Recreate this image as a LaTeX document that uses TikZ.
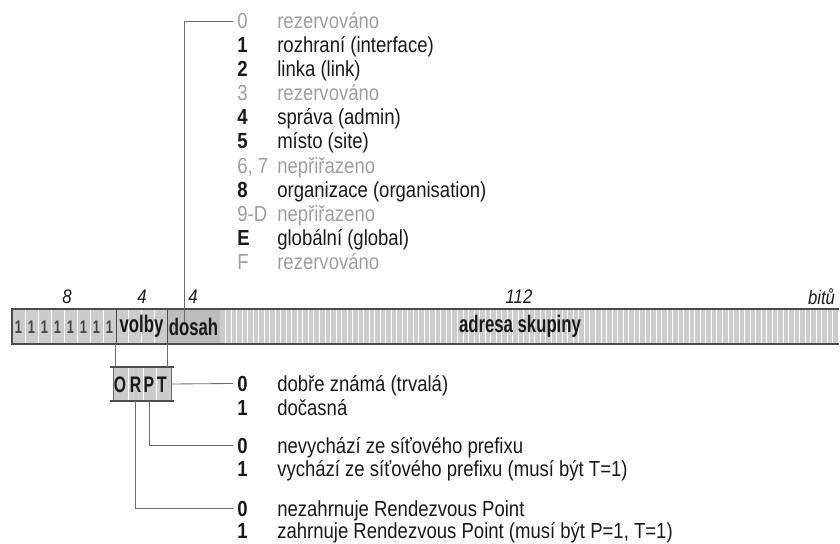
\documentclass[tikz,border=0pt]{standalone}
\usepackage{fontspec}
\setmainfont{Liberation Sans}[FakeStretch=0.85]
\newfontfamily\narrowfont{Liberation Sans}[FakeStretch=0.7]
\usetikzlibrary{positioning}
\definecolor{fieldgray}{gray}{0.80}
\definecolor{dosahgray}{gray}{0.74}
\definecolor{rezgray}{gray}{0.62}
\definecolor{rulegray}{gray}{0.30}
\definecolor{linegray}{gray}{0.42}
\definecolor{textblack}{gray}{0.10}

\tikzset{
  num/.style={anchor=base west, inner sep=0pt, font=\fontsize{15.5}{17}\selectfont},
  desc/.style={anchor=base west, inner sep=0pt, font=\fontsize{15.5}{17}\selectfont},
  bitlabel/.style={font=\fontsize{14}{16}\selectfont\itshape, text=textblack},
  field/.style={inner sep=0pt, minimum height=0.875cm, font=\narrowfont\fontsize{17}{18}\selectfont\bfseries, text=textblack},
  letter/.style={inner sep=0pt, font=\narrowfont\fontsize{16}{18}\selectfont\bfseries, text=textblack},
  conn/.style={linegray, line width=0.6pt},
}

\begin{document}
\begin{tikzpicture}[x=0.025cm, y=-0.025cm]
\useasboundingbox (0,0) rectangle (840,544);

% bar
\fill[fieldgray] (12,309) rectangle (838,344);
\fill[dosahgray] (167,309) rectangle (220,344);
\foreach \k in {1,...,7} \draw[white, line width=0.6pt] ({12+13*\k},309) -- ++(0,35);
\foreach \k in {1,...,3} \draw[white!90!fieldgray, line width=0.4pt] ({116+12.75*\k},309) -- ++(0,35);
\foreach \k in {1,...,111} \draw[white, line width=0.5pt] ({220+5.52*\k},309) -- ++(0,35);
\draw[rulegray, line width=0.6pt] (116,309) -- (116,344);
\draw[rulegray, line width=0.6pt] (167,309) -- (167,344);
\draw[rulegray, line width=1.5pt] (839,309) -- (12,309) -- (12,344) -- (839,344);

\node[field, minimum width=2.6cm] (ones) at (64,326.5) {};
\foreach \k in {0,...,7}
  \node[inner sep=0pt, font=\narrowfont\fontsize{13}{14}\selectfont\bfseries, text=textblack!80] (one\k) at ({18.5+13*\k},327) {1};
\node[field, minimum width=1.275cm] (volby) at (141.5,326.5) {volby};
\node[field, minimum width=1.325cm] (dosah) at (193.5,326.5) {dosah};
\node[field] (adresa) at (520,326.5) {adresa skupiny};

% bit widths
\node[bitlabel] (b8) at (67,297) {8};
\node[bitlabel] (b4a) at (142,297) {4};
\node[bitlabel] (b4b) at (193,297) {4};
\node[bitlabel] (b112) at (519,297) {112};
\node[bitlabel, anchor=east] (bitu) at (840,297) {bitů};

% dosah values
\coordinate (dosahtop) at (184,322);
\foreach \n/\d/\c/\w [count=\i from 0] in {
  0/rezervováno/rezgray/\mdseries,
  1/rozhraní (interface)/textblack/\bfseries,
  2/linka (link)/textblack/\bfseries,
  3/rezervováno/rezgray/\mdseries,
  4/správa (admin)/textblack/\bfseries,
  5/místo (site)/textblack/\bfseries,
  {6, 7}/nepřiřazeno/rezgray/\mdseries,
  8/organizace (organisation)/textblack/\bfseries,
  9-D/nepřiřazeno/rezgray/\mdseries,
  E/globální (global)/textblack/\bfseries,
  F/rezervováno/rezgray/\mdseries}{
  \node[num, text=\c, font=\fontsize{15.5}{17}\selectfont\w] (n\i) at (237,{28.5+24.1*\i}) {\n};
  \node[desc, text=\c] (d\i) at (277,{28.5+24.1*\i}) {\d};
}
\draw[conn] (dosahtop) |- ([xshift=-3pt]n0.west);

% volby flags
\node[draw=linegray, line width=0.5pt, fill=fieldgray, minimum width=1.45cm, minimum height=0.85cm, inner sep=0pt] (orpt) at (142,384) {};
\foreach \x in {128,143,156} \draw[white, line width=0.6pt] (\x,368) -- (\x,400);
\draw[rulegray, line width=1.5pt] ([xshift=-2pt]orpt.north west) -- ([xshift=2pt]orpt.north east);
\draw[rulegray, line width=1.5pt] ([xshift=-2pt]orpt.south west) -- ([xshift=2pt]orpt.south east);
\node[letter] (lo) at (120,385) {O};
\node[letter] (lr) at (135.5,385) {R};
\node[letter] (lp) at (149,385) {P};
\node[letter] (lt) at (162,385) {T};
\draw[conn] (volby.south west) -- (volby.south west |- orpt.north);
\draw[conn] (volby.south east) -- (volby.south east |- orpt.north);

\node[num, font=\fontsize{15.5}{17}\selectfont\bfseries, text=textblack] (t0) at (237,391) {0};
\node[desc, text=textblack] (td0) at (277,391) {dobře známá (trvalá)};
\node[num, font=\fontsize{15.5}{17}\selectfont\bfseries, text=textblack] (t1) at (237,415) {1};
\node[desc, text=textblack] (td1) at (277,415) {dočasná};

\node[num, font=\fontsize{15.5}{17}\selectfont\bfseries, text=textblack] (p0) at (237,453) {0};
\node[desc, text=textblack] (pd0) at (277,453) {nevychází ze síťového prefixu};
\node[num, font=\fontsize{15.5}{17}\selectfont\bfseries, text=textblack] (p1) at (237,476) {1};
\node[desc, text=textblack] (pd1) at (277,476) {vychází ze síťového prefixu (musí být T=1)};

\node[num, font=\fontsize{15.5}{17}\selectfont\bfseries, text=textblack] (r0) at (237,516) {0};
\node[desc, text=textblack] (rd0) at (277,516) {nezahrnuje Rendezvous Point};
\node[num, font=\fontsize{15.5}{17}\selectfont\bfseries, text=textblack] (r1) at (237,538) {1};
\node[desc, text=textblack] (rd1) at (277,538) {zahrnuje Rendezvous Point (musí být P=1, T=1)};

\draw[conn] (orpt.east) -- ([xshift=-3pt]t0.west);
\draw[conn] (lp.south |- orpt.south) |- ([xshift=-3pt]p0.west);
\draw[conn] (lr.south |- orpt.south) |- ([xshift=-3pt]r0.west);

\end{tikzpicture}
\end{document}
